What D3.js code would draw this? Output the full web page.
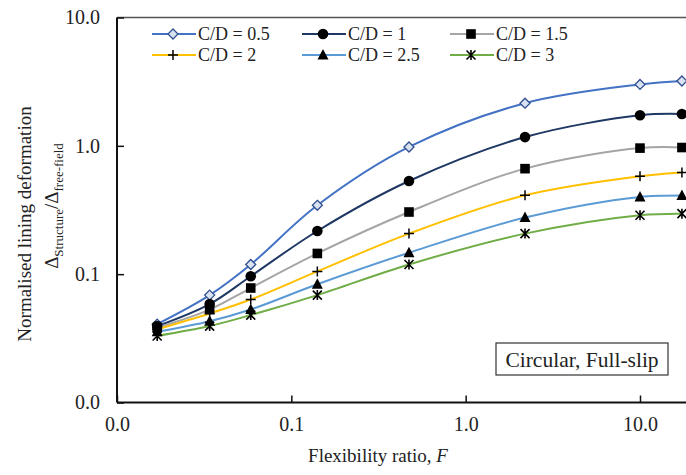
<!DOCTYPE html>
<html><head><meta charset="utf-8">
<script src="https://cdn.jsdelivr.net/npm/d3@7"></script>
<style>html,body{margin:0;padding:0;background:#fff;overflow:hidden}svg{display:block}
svg text{font-family:"Liberation Serif","DejaVu Serif","Times New Roman",serif;}</style>
</head><body>
<svg id="chart" width="686" height="475"></svg>
<script>
const F = [0.0170, 0.0340, 0.0585, 0.141, 0.473, 2.19, 10, 17.4];
const seriesNames = ["C/D = 0.5", "C/D = 1", "C/D = 1.5", "C/D = 2", "C/D = 2.5", "C/D = 3"];
const cd05 = [0.0408, 0.0687, 0.119, 0.344, 0.98, 2.15, 3.01, 3.2];
const cd1  = [0.0394, 0.0585, 0.0964, 0.217, 0.532, 1.17, 1.73, 1.77];
const cd15 = [0.0383, 0.0530, 0.078, 0.145, 0.305, 0.664, 0.96, 0.97];
const cd2  = [0.0372, 0.0494, 0.0635, 0.105, 0.207, 0.412, 0.58, 0.62];
const cd25 = [0.0356, 0.0430, 0.0531, 0.0835, 0.147, 0.276, 0.40, 0.41];
const cd3  = [0.0330, 0.0394, 0.0480, 0.0687, 0.119, 0.207, 0.288, 0.296];
const xTicks = [0.01, 0.1, 1, 10];
const yTicks = [0.01, 0.1, 1, 10];

const seriesValues = [cd05, cd1, cd15, cd2, cd25, cd3];
const lineColors = ["#4472c4", "#1f3864", "#a5a5a5", "#ffc000", "#5b9bd5", "#70ad47"];
const markerTypes = ["diamond", "circle", "square", "plus", "triangle", "star"];

const svg = d3.select("#chart");
const pLeft = 117, pRight = 700, pTop = 17.5, pBottom = 402.5;
const x = d3.scaleLog().domain([0.01, 10 ** ((pRight - pLeft) / ((640 - 117) / 3) - 2)]).range([pLeft, pRight]);
const y = d3.scaleLog().domain([0.01, 10]).range([pBottom, pTop]);

// top border
svg.append("line").attr("x1", pLeft).attr("x2", pRight).attr("y1", pTop).attr("y2", pTop)
  .attr("stroke", "#555").attr("stroke-width", 1.5);

// axes
const xAxis = d3.axisBottom(x).tickValues(xTicks).tickSize(-7).tickPadding(14).tickFormat(d => d3.format(".1f")(d));
const yAxis = d3.axisLeft(y).tickValues(yTicks).tickSize(-7).tickPadding(17).tickFormat(d => d3.format(".1f")(d));
const gx = svg.append("g").attr("transform", `translate(0,${pBottom})`).call(xAxis);
const gy = svg.append("g").attr("transform", `translate(${pLeft},0)`).call(yAxis);
[gx, gy].forEach(g => {
  g.attr("font-family", null);
  g.select(".domain").attr("stroke", "#111").attr("stroke-width", 2);
  g.selectAll(".tick line").attr("stroke", "#111").attr("stroke-width", 1.5);
  g.selectAll(".tick text").style("font-size", "20px").attr("fill", "#222");
});
gx.select(".domain").attr("d", `M${pLeft},0H${pRight}`);
gy.select(".domain").attr("d", `M0,${pBottom}V${pTop}`);

// axis titles
svg.append("text").attr("x", 378).attr("y", 462).attr("text-anchor", "middle")
  .style("font-size", "19px").attr("fill", "#222")
  .html('Flexibility ratio, <tspan font-style="italic">F</tspan>');
svg.append("text").attr("transform", "translate(31,224) rotate(-90)").attr("text-anchor", "middle")
  .style("font-size", "19px").attr("fill", "#222")
  .text("Normalised lining deformation");
const t2 = svg.append("text").attr("transform", "translate(58,206) rotate(-90)").attr("text-anchor", "middle")
  .style("font-size", "19px").attr("fill", "#222");
t2.append("tspan").text("Δ");
t2.append("tspan").style("font-size", "13px").attr("dy", 5).text("Structure");
t2.append("tspan").attr("dy", -5).text("/Δ");
t2.append("tspan").style("font-size", "13px").attr("dy", 5).text("free-field");

// clip
svg.append("clipPath").attr("id", "clip").append("rect").attr("x", pLeft).attr("y", pTop - 10).attr("width", pRight - pLeft + 20).attr("height", pBottom - pTop + 10);

function drawMarker(g, type, cx, cy) {
  const s = 5;
  if (type === "diamond") {
    g.append("path").attr("d", `M${cx},${cy - s}L${cx + s},${cy}L${cx},${cy + s}L${cx - s},${cy}Z`)
      .attr("fill", "#d9e2f1").attr("stroke", "#2f4f8f").attr("stroke-width", 1.3);
  } else if (type === "circle") {
    g.append("circle").attr("cx", cx).attr("cy", cy).attr("r", 5.3).attr("fill", "#000");
  } else if (type === "square") {
    g.append("rect").attr("x", cx - 4.8).attr("y", cy - 4.8).attr("width", 9.6).attr("height", 9.6).attr("fill", "#000");
  } else if (type === "plus") {
    g.append("path").attr("d", `M${cx - 5},${cy}H${cx + 5}M${cx},${cy - 5}V${cy + 5}`)
      .attr("stroke", "#000").attr("stroke-width", 1.5).attr("fill", "none");
  } else if (type === "triangle") {
    g.append("path").attr("d", `M${cx},${cy - 6}L${cx + 5.5},${cy + 4.5}L${cx - 5.5},${cy + 4.5}Z`).attr("fill", "#000");
  } else if (type === "star") {
    g.append("path").attr("d", `M${cx - 4.5},${cy - 4.5}L${cx + 4.5},${cy + 4.5}M${cx + 4.5},${cy - 4.5}L${cx - 4.5},${cy + 4.5}M${cx},${cy - 5}V${cy + 5}`)
      .attr("stroke", "#000").attr("stroke-width", 1.6).attr("fill", "none");
  }
}

const plot = svg.append("g").attr("clip-path", "url(#clip)");
const line = d3.line().x(d => x(d[0])).y(d => y(d[1])).curve(d3.curveCatmullRom.alpha(0.5));
seriesValues.forEach((vals, i) => {
  const pts = F.map((f, j) => [f, vals[j]]);
  plot.append("path").attr("d", line(pts)).attr("fill", "none")
    .attr("stroke", lineColors[i]).attr("stroke-width", 2);
});
seriesValues.forEach((vals, i) => {
  F.forEach((f, j) => drawMarker(plot, markerTypes[i], x(f), y(vals[j])));
});

// legend
const legCols = [152, 302, 450];
const legRows = [34, 55];
seriesNames.forEach((name, i) => {
  const lx = legCols[i % 3], ly = legRows[Math.floor(i / 3)];
  const g = svg.append("g");
  g.append("line").attr("x1", lx).attr("x2", lx + 44).attr("y1", ly).attr("y2", ly)
    .attr("stroke", lineColors[i]).attr("stroke-width", 2);
  drawMarker(g, markerTypes[i], lx + 21, ly);
  g.append("text").attr("x", lx + 46).attr("y", ly + 6)
    .style("font-size", "18px").attr("fill", "#222").text(name);
});

// annotation box
svg.append("rect").attr("x", 496).attr("y", 343).attr("width", 172).attr("height", 32)
  .attr("fill", "#fff").attr("stroke", "#333").attr("stroke-width", 1.2);
svg.append("text").attr("x", 582).attr("y", 367).attr("text-anchor", "middle")
  .style("font-size", "21.5px").attr("fill", "#222").text("Circular, Full-slip");
</script>
</body></html>
